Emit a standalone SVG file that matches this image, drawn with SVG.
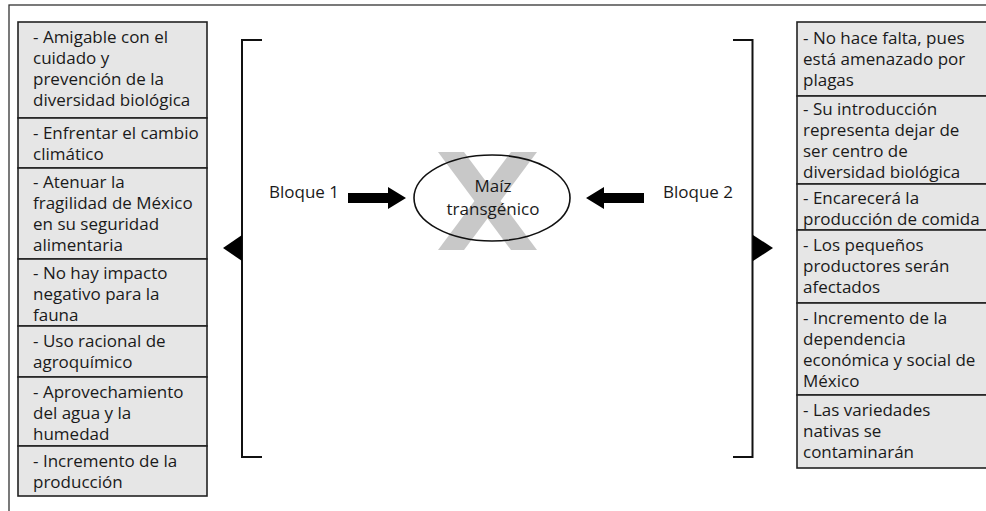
<svg xmlns="http://www.w3.org/2000/svg" width="986" height="511" viewBox="0 0 986 511">
<style>
text{font-family:"Open Sans","Noto Sans","DejaVu Sans",sans-serif;font-size:17px;fill:#1a1a1a}
.box{fill:#e6e6e6;stroke:#222;stroke-width:1.6}
.br{fill:none;stroke:#111;stroke-width:2}
.c{text-anchor:middle}
.x{fill:#c8c8c8}
</style>
<rect x="0" y="0" width="986" height="511" fill="#fff"/>
<rect x="9" y="5" width="990" height="520" fill="none" stroke="#333" stroke-width="1.3"/>

<g id="left-1"><rect class="box" x="18" y="22" width="189" height="96"/>
<text x="33" y="43">- Amigable con el</text><text x="33" y="64">cuidado y</text><text x="33" y="85">prevención de la</text><text x="33" y="106">diversidad biológica</text></g>
<g id="left-2"><rect class="box" x="18" y="118" width="189" height="50"/>
<text x="33" y="139">- Enfrentar el cambio</text><text x="33" y="160">climático</text></g>
<g id="left-3"><rect class="box" x="18" y="168" width="189" height="91"/>
<text x="33" y="188">- Atenuar la</text><text x="33" y="209">fragilidad de México</text><text x="33" y="230">en su seguridad</text><text x="33" y="251">alimentaria</text></g>
<g id="left-4"><rect class="box" x="18" y="259" width="189" height="67"/>
<text x="33" y="279">- No hay impacto</text><text x="33" y="300">negativo para la</text><text x="33" y="321">fauna</text></g>
<g id="left-5"><rect class="box" x="18" y="326" width="189" height="51"/>
<text x="33" y="347">- Uso racional de</text><text x="33" y="368">agroquímico</text></g>
<g id="left-6"><rect class="box" x="18" y="377" width="189" height="69"/>
<text x="33" y="398">- Aprovechamiento</text><text x="33" y="419">del agua y la</text><text x="33" y="440">humedad</text></g>
<g id="left-7"><rect class="box" x="18" y="446" width="189" height="50"/>
<text x="33" y="467">- Incremento de la</text><text x="33" y="488">producción</text></g>

<g id="right-1"><rect class="box" x="797" y="22" width="195" height="74"/>
<text x="803" y="44">- No hace falta, pues</text><text x="803" y="65">está amenazado por</text><text x="803" y="86">plagas</text></g>
<g id="right-2"><rect class="box" x="797" y="96" width="195" height="88"/>
<text x="803" y="115">- Su introducción</text><text x="803" y="136">representa dejar de</text><text x="803" y="157">ser centro de</text><text x="803" y="178">diversidad biológica</text></g>
<g id="right-3"><rect class="box" x="797" y="184" width="195" height="46"/>
<text x="803" y="204">- Encarecerá la</text><text x="803" y="225">producción de comida</text></g>
<g id="right-4"><rect class="box" x="797" y="230" width="195" height="73"/>
<text x="803" y="251">- Los pequeños</text><text x="803" y="272">productores serán</text><text x="803" y="293">afectados</text></g>
<g id="right-5"><rect class="box" x="797" y="303" width="195" height="92"/>
<text x="803" y="324">- Incremento de la</text><text x="803" y="345">dependencia</text><text x="803" y="366">económica y social de</text><text x="803" y="387">México</text></g>
<g id="right-6"><rect class="box" x="797" y="395" width="195" height="73"/>
<text x="803" y="416">- Las variedades</text><text x="803" y="437">nativas se</text><text x="803" y="458">contaminarán</text></g>

<g id="center">
<polygon class="x" points="438,152 464,152 537,250 511,250"/>
<polygon class="x" points="511,152 537,152 464,250 438,250"/>
<ellipse cx="492" cy="198" rx="78" ry="43" fill="none" stroke="#111" stroke-width="1.6"/>
<text class="c" x="493" y="192">Maíz</text>
<text class="c" x="493" y="215">transgénico</text>
</g>
<g id="bloque-1"><text x="269" y="198">Bloque 1</text></g>
<g id="bloque-2"><text x="663" y="198">Bloque 2</text></g>

<g id="connectors">
<path class="br" d="M262,40 H242 V457 H262"/>
<path class="br" d="M733,40 H752.5 V457 H733"/>
<polygon points="223,248 242,235 242,261" fill="#000"/>
<polygon points="773,248 753,235 753,261" fill="#000"/>
<polygon points="348,193 388,193 388,187 406,198 388,209 388,203 348,203" fill="#000"/>
<polygon points="644,193 604,193 604,187 586,198 604,209 604,203 644,203" fill="#000"/>
</g>
</svg>
